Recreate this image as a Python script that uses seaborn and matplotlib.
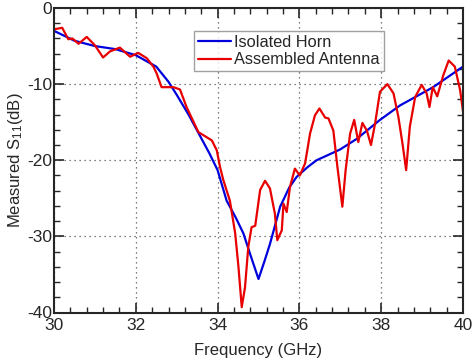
# measured S11 of isolated horn vs assembled antenna

import numpy as np
import pandas as pd
import matplotlib
matplotlib.use("Agg")
import matplotlib.pyplot as plt
from matplotlib.ticker import MultipleLocator
import seaborn as sns

horn_freq = [30.0, 30.5, 31.0, 31.5, 32.0, 32.5, 32.8, 33.0, 33.3, 33.6, 33.8,
             34.0, 34.22, 34.45, 34.63, 34.8, 35.0, 35.15, 35.28, 35.53, 35.75,
             35.93, 36.2, 36.42, 36.99, 37.4, 37.97, 38.46, 39.27, 40.0]
horn_s11 = [-3.0, -4.3, -5.0, -5.4, -6.2, -7.7, -9.7, -11.4, -14.1, -17.1, -19.1,
            -21.3, -25.3, -27.6, -29.6, -32.4, -35.6, -33.2, -31.0, -26.1, -23.6,
            -22.2, -20.9, -20.0, -18.6, -17.2, -14.7, -12.8, -10.4, -7.7]

asm_freq = [30.0, 30.2, 30.35, 30.45, 30.6, 30.8, 31.0, 31.2, 31.37, 31.61,
            31.86, 32.06, 32.27, 32.43, 32.51, 32.63, 32.92, 33.08, 33.24,
            33.53, 33.86, 33.98, 34.06, 34.14, 34.3, 34.43, 34.51, 34.59,
            34.67, 34.75, 34.83, 34.92, 35.04, 35.16, 35.28, 35.4, 35.46,
            35.57, 35.61, 35.69, 35.77, 35.89, 36.01, 36.14, 36.26, 36.38,
            36.49, 36.63, 36.71, 36.83, 36.93, 37.05, 37.13, 37.24, 37.34,
            37.44, 37.54, 37.65, 37.75, 37.85, 37.97, 38.15, 38.3, 38.42,
            38.52, 38.61, 38.7, 38.83, 38.99, 39.11, 39.18, 39.26, 39.37,
            39.52, 39.65, 39.8, 39.93, 40.0]
asm_s11 = [-2.8, -2.6, -4.1, -4.0, -4.7, -3.8, -4.9, -6.5, -5.7, -5.2,
           -6.4, -5.9, -6.6, -7.7, -8.6, -10.4, -10.4, -10.7, -13.0,
           -16.3, -17.4, -18.7, -20.9, -22.6, -25.3, -29.6, -34.0, -39.3,
           -36.7, -31.4, -28.8, -28.6, -23.9, -22.7, -23.7, -27.0, -30.5,
           -29.2, -25.7, -26.8, -23.5, -21.1, -22.0, -20.4, -16.5, -14.1,
           -13.2, -14.4, -14.5, -16.1, -20.9, -26.1, -21.3, -16.5, -14.7,
           -17.6, -15.1, -16.1, -18.0, -15.2, -11.0, -10.0, -11.2, -14.3,
           -17.8, -21.3, -15.6, -11.7, -10.1, -11.2, -13.0, -10.4, -11.6,
           -8.8, -6.9, -7.7, -10.8, -13.6]

df = pd.concat([
    pd.DataFrame({"f": horn_freq, "s": horn_s11, "src": "Isolated Horn"}),
    pd.DataFrame({"f": asm_freq, "s": asm_s11, "src": "Assembled Antenna"}),
])

sns.set_style("ticks")
plt.rcParams["font.family"] = ["Liberation Sans", "DejaVu Sans"]
plt.rcParams["mathtext.fontset"] = "custom"
plt.rcParams["mathtext.rm"] = "Liberation Sans"
plt.rcParams["mathtext.it"] = "Liberation Sans"
plt.rcParams["axes.unicode_minus"] = False

fig = plt.figure(figsize=(4.74, 3.59), dpi=100)
ax = fig.add_axes([54 / 474, 1 - 312.5 / 359, 409 / 474, 304.5 / 359])

sns.lineplot(data=df, x="f", y="s", hue="src", sort=False,
             palette={"Isolated Horn": "#0000dd", "Assembled Antenna": "#e80000"},
             linewidth=1.6, ax=ax)

ax.set_xlim(30, 40)
ax.set_ylim(-40, 0)
ax.xaxis.set_major_locator(MultipleLocator(2))
ax.xaxis.set_minor_locator(MultipleLocator(0.4))
ax.yaxis.set_major_locator(MultipleLocator(10))
ax.yaxis.set_minor_locator(MultipleLocator(2))
ax.tick_params(which="both", direction="in", top=True, right=True, labelsize=12.5)
ax.tick_params(axis="x", which="major", pad=3.8)
ax.tick_params(axis="y", which="major", pad=1.5)
ax.tick_params(which="major", length=7.5, width=1.2)
ax.tick_params(which="minor", length=4, width=1.0)
for sp in ax.spines.values():
    sp.set_linewidth(1.5)
ax.grid(which="major", linestyle=(0, (1, 3)), color="#555555", linewidth=0.9)

ax.set_xlabel("Frequency (GHz)", fontsize=12, labelpad=7)
ax.set_ylabel("Measured S$_{11}$(dB)", fontsize=12, labelpad=1)

leg = ax.legend(loc="upper left", bbox_to_anchor=(0.342, 0.925), fontsize=11.8,
                frameon=True, fancybox=False, edgecolor="#888888",
                handlelength=2.0, borderpad=0.25, labelspacing=0.15,
                handletextpad=0.2, borderaxespad=0)
leg.get_frame().set_linewidth(1.0)

fig.savefig("out.png", dpi=100)
